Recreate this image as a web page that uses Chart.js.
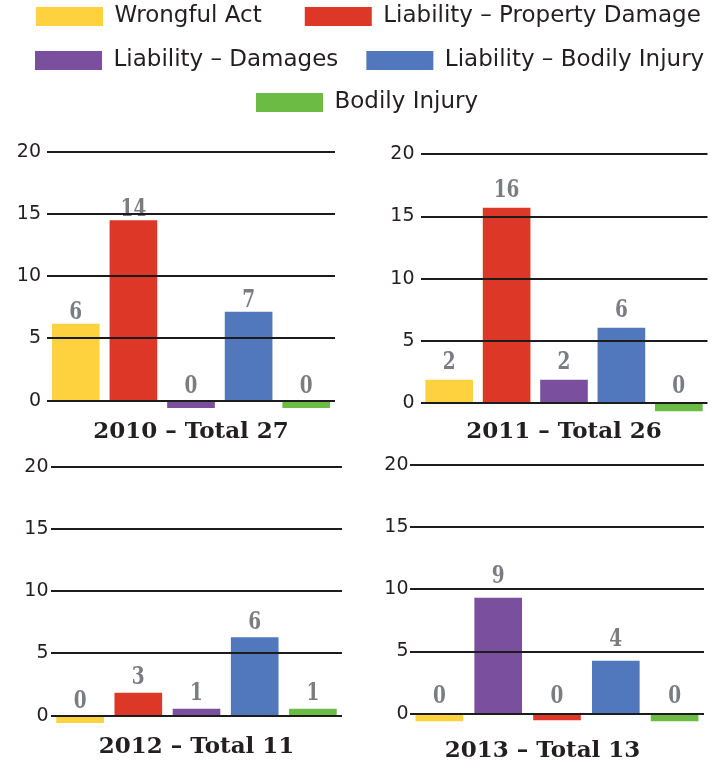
<!DOCTYPE html>
<html>
<head>
<meta charset="utf-8">
<script src="https://cdn.jsdelivr.net/npm/chart.js@4"></script>
<style>
html, body { margin: 0; padding: 0; background: #ffffff; overflow: hidden; width: 723px; height: 764px; }
body { position: relative; }
canvas { position: absolute; }
</style>
</head>
<body>
<script>
// ---------------- DATA ----------------
const seriesNames = ['Wrongful Act', 'Liability – Property Damage', 'Liability – Damages', 'Liability – Bodily Injury', 'Bodily Injury'];
const seriesColors = ['#fed13e', '#dd3827', '#7a509e', '#5177bd', '#6bbb45'];

const years = ['2010', '2011', '2012', '2013'];
const totals = [27, 26, 11, 13];

const categories2010 = ['Wrongful Act', 'Liability – Property Damage', 'Liability – Damages', 'Liability – Bodily Injury', 'Bodily Injury'];
const categories2011 = ['Wrongful Act', 'Liability – Property Damage', 'Liability – Damages', 'Liability – Bodily Injury', 'Bodily Injury'];
const categories2012 = ['Wrongful Act', 'Liability – Property Damage', 'Liability – Damages', 'Liability – Bodily Injury', 'Bodily Injury'];
const categories2013 = ['Wrongful Act', 'Liability – Damages', 'Liability – Property Damage', 'Liability – Bodily Injury', 'Bodily Injury'];

// numbers printed above the bars
const printed2010 = [6, 14, 0, 7, 0];
const printed2011 = [2, 16, 2, 6, 0];
const printed2012 = [0, 3, 1, 6, 1];
const printed2013 = [0, 9, 0, 4, 0];

// bar heights as drawn in the picture (zero counts are drawn as short bars below the axis)
const heights2010 = [6.16, 14.46, -0.56, 7.11, -0.56];
const heights2011 = [1.87, 15.69, 1.87, 6.05, -0.62];
const heights2012 = [-0.56, 1.82, 0.54, 6.27, 0.54];
const heights2013 = [-0.59, 9.29, -0.51, 4.23, -0.59];

const yTicks = [0, 5, 10, 15, 20];
const yMin = -0.75;
const yMax = 20;

// ---------------- LAYOUT / STYLE ----------------
const legendRows = [
  { items: [0, 1], left: -7, top: -38, pad: 43 },
  { items: [2, 3], left: 7, top: 21, pad: 28 },
  { items: [4], left: 226, top: 61, pad: 30 }
];

const panelGeom = [
  { canvasLeft: 0,   width: 360, areaLeft: 47,    areaRight: 335,   y20: 151.7, y0: 400.7, titleCx: 191,   titleCy: 431.7, gap: 5,  zeroGap: 9,    tickPad: 6 },
  { canvasLeft: 360, width: 363, areaLeft: 420.5, areaRight: 707.5, y20: 154.3, y0: 403.3, titleCx: 564,   titleCy: 431.7, gap: 11, zeroGap: 11.5, tickPad: 6 },
  { canvasLeft: 0,   width: 360, areaLeft: 51,    areaRight: 342,   y20: 466.7, y0: 715.7, titleCx: 193.3, titleCy: 746.7, gap: 9,  zeroGap: 9,    tickPad: 2.5 },
  { canvasLeft: 360, width: 363, areaLeft: 410,   areaRight: 704,   y20: 465,   y0: 713.7, titleCx: 542.5, titleCy: 751,   gap: 15, zeroGap: 11.4, tickPad: 1.5 }
];

const panelCategories = [categories2010, categories2011, categories2012, categories2013];
const panelPrinted = [printed2010, printed2011, printed2012, printed2013];
const panelHeights = [heights2010, heights2011, heights2012, heights2013];

const TEXT = '#231f20';
const GRID = '#1c1c1c';
const LABEL_GRAY = '#7b7c80';

function colorOf(name) { return seriesColors[seriesNames.indexOf(name)]; }

function makeCanvas(left, top, w, h) {
  const c = document.createElement('canvas');
  c.width = w; c.height = h;
  c.style.left = left + 'px'; c.style.top = top + 'px';
  c.style.width = w + 'px'; c.style.height = h + 'px';
  document.body.appendChild(c);
  return c;
}

// ---------------- LEGEND ----------------
legendRows.forEach(row => {
  const c = makeCanvas(row.left, row.top, 800, 150);
  new Chart(c, {
    type: 'bar',
    data: {
      labels: [],
      datasets: row.items.map(k => ({ label: seriesNames[k], data: [], backgroundColor: seriesColors[k], borderWidth: 0 }))
    },
    options: {
      responsive: false,
      animation: false,
      layout: { padding: 0 },
      scales: { x: { display: false }, y: { display: false } },
      plugins: {
        tooltip: { enabled: false },
        title: { display: false },
        legend: {
          display: true,
          position: 'top',
          align: 'start',
          labels: {
            boxWidth: 67,
            boxHeight: 19,
            padding: row.pad,
            color: TEXT,
            font: { family: 'DejaVu Sans', size: 23 }
          }
        }
      }
    }
  });
});

// ---------------- VALUE LABEL PLUGIN ----------------
const valueLabels = {
  id: 'valueLabels',
  afterDatasetsDraw(chart, args, opts) {
    const ctx = chart.ctx;
    const meta = chart.getDatasetMeta(0);
    meta.data.forEach((bar, i) => {
      const positive = bar.y < bar.base;
      const top = Math.min(bar.y, bar.base);
      const gap = positive ? opts.gap : opts.zeroGap;
      const txt = String(opts.texts[i]);
      ctx.save();
      ctx.font = 'bold 24px "DejaVu Serif"';
      ctx.fillStyle = LABEL_GRAY;
      ctx.textAlign = 'center';
      ctx.textBaseline = 'alphabetic';
      ctx.translate(bar.x, top - gap);
      ctx.scale(0.77, 1);
      ctx.fillText(txt, 0, 0);
      ctx.restore();
    });
  }
};

// ---------------- PANELS ----------------
panelGeom.forEach((g, i) => {
  // place the title centre where it is in the picture; fall back to centring over the plot
  let padLeft = 2 * g.titleCx - g.areaRight - g.canvasLeft;
  let axisW = g.areaLeft - g.canvasLeft - padLeft;
  let fullSize = true;
  if (axisW < 28 || padLeft < 0) {
    padLeft = 0;
    axisW = g.areaLeft - g.canvasLeft;
    fullSize = false;
  }
  const padRight = g.canvasLeft + g.width - g.areaRight;
  const T = Math.floor(g.y20 - 22);
  const padTop = g.y20 - T;
  const areaBottom = g.y0 + (g.y0 - g.y20) / (yMax - 0) * (0 - yMin);
  const titleLine = 23 * 1.2;
  const titlePadTop = g.titleCy - titleLine / 2 - areaBottom;
  const H = Math.ceil(g.titleCy + titleLine / 2 - T);
  const titlePadBottom = (T + H) - (g.titleCy + titleLine / 2);

  const c = makeCanvas(g.canvasLeft, T, g.width, H);
  const cats = panelCategories[i];
  new Chart(c, {
    type: 'bar',
    data: {
      labels: cats,
      datasets: [{
        data: panelHeights[i],
        backgroundColor: cats.map(colorOf),
        borderWidth: 0,
        barThickness: 47
      }]
    },
    options: {
      responsive: false,
      animation: false,
      layout: { padding: { left: padLeft, right: padRight, top: padTop, bottom: 0 } },
      scales: {
        x: { display: false },
        y: {
          min: yMin,
          max: yMax,
          afterBuildTicks: s => { s.ticks = yTicks.map(v => ({ value: v })); },
          afterFit: s => { s.width = axisW; },
          border: { display: false },
          grid: { color: GRID, lineWidth: 2, drawTicks: false, z: 1 },
          ticks: {
            autoSkip: false,
            padding: g.tickPad,
            color: TEXT,
            font: { family: 'DejaVu Sans', size: 19 }
          }
        }
      },
      plugins: {
        legend: { display: false },
        tooltip: { enabled: false },
        title: {
          display: true,
          position: 'bottom',
          fullSize: fullSize,
          text: years[i] + ' – Total ' + totals[i],
          color: TEXT,
          font: { family: 'DejaVu Serif', size: 23, weight: 'bold', lineHeight: 1.2 },
          padding: { top: titlePadTop, bottom: titlePadBottom }
        },
        valueLabels: { texts: panelPrinted[i], gap: g.gap, zeroGap: g.zeroGap }
      }
    },
    plugins: [valueLabels]
  });
});
</script>
</body>
</html>
